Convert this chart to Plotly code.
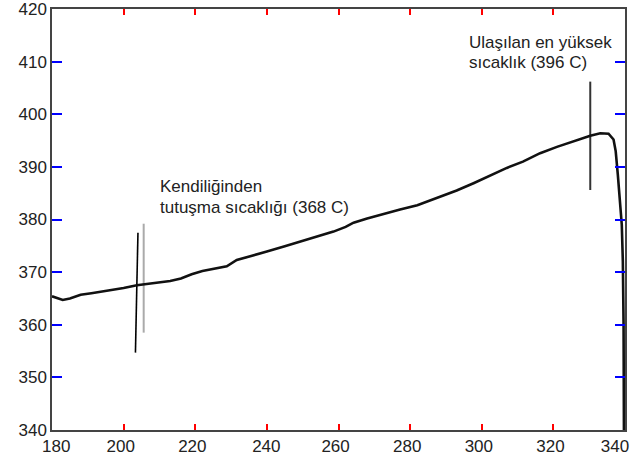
import plotly.graph_objects as go

# Temperature curve
curve_x = [180.0, 181.5, 183.0, 185.0, 188.0, 191.0, 194.0, 197.0, 200.0, 203.7,
           207.0, 210.0, 213.0, 216.0, 219.0, 222.0, 225.0, 228.8, 231.6, 235.0,
           240.0, 245.0, 249.3, 254.0, 258.6, 262.0, 264.2, 268.0, 271.6, 277.2,
           282.0, 288.4, 293.0, 297.7, 302.0, 307.0, 311.5, 316.3, 321.0, 325.6,
           330.3, 333.1, 335.4, 336.8, 337.4, 338.0, 338.7, 339.1, 339.4, 339.6, 339.7]
curve_y = [365.4, 365.0, 364.7, 365.0, 365.7, 366.0, 366.3, 366.6, 367.0, 367.5,
           367.8, 368.0, 368.3, 368.8, 369.6, 370.2, 370.6, 371.1, 372.3, 372.9,
           373.9, 374.9, 375.8, 376.7, 377.7, 378.6, 379.4, 380.2, 380.9, 381.9,
           382.7, 384.3, 385.5, 386.9, 388.2, 389.8, 391.0, 392.6, 393.8, 394.9,
           395.9, 396.4, 396.3, 395.2, 393.0, 388.5, 383.0, 379.0, 372.0, 360.0, 340.0]

# Marker lines
ign_black_x = [204.0, 203.3]
ign_black_y = [377.5, 354.7]
ign_gray_x = [205.6, 205.6]
ign_gray_y = [379.2, 358.5]
peak_x = [330.3, 330.3]
peak_y = [406.2, 385.6]

# Labels (one entry per text line)
ign_lines = ["Kendiliğinden", "tutuşma sıcaklığı (368 C)"]
ign_line_x = [209.6, 209.6]
ign_line_y = [386.3, 382.3]
peak_lines = ["Ulaşılan en yüksek", "sıcaklık (396 C)"]
peak_line_x = [295.8, 295.8]
peak_line_y = [413.6, 409.9]

NB = "\u00a0"
x_ticks = [180, 200, 220, 240, 260, 280, 300, 320, 340]
x_ticktext = [NB * 6 + "180", NB * 3 + "200", NB * 3 + "220", NB * 4 + "240", NB * 3 + "260",
              NB * 3 + "280", NB * 3 + "300", NB * 3 + "320", "340"]
y_ticks = [340, 350, 360, 370, 380, 390, 400, 410, 420]
x_minor = list(range(180, 341, 4))
y_minor = list(range(340, 421, 2))

fig = go.Figure()
fig.add_trace(go.Scatter(x=ign_gray_x, y=ign_gray_y, mode="lines",
                         line=dict(color="#aaaaaa", width=2), showlegend=False, hoverinfo="skip"))
fig.add_trace(go.Scatter(x=ign_black_x, y=ign_black_y, mode="lines",
                         line=dict(color="#000000", width=1.6), showlegend=False, hoverinfo="skip"))
fig.add_trace(go.Scatter(x=peak_x, y=peak_y, mode="lines",
                         line=dict(color="#333333", width=2), showlegend=False, hoverinfo="skip"))
fig.add_trace(go.Scatter(x=curve_x, y=curve_y, mode="lines",
                         line=dict(color="#111111", width=2.6), showlegend=False))

font_fam = "Liberation Sans, Arial, sans-serif"
for txt, ax, ay in list(zip(ign_lines, ign_line_x, ign_line_y)) + list(zip(peak_lines, peak_line_x, peak_line_y)):
    fig.add_annotation(x=ax, y=ay, text=txt, showarrow=False,
                       xanchor="left", yanchor="middle", align="left",
                       font=dict(family=font_fam, size=17, color="#222222"))

axis_common = dict(showline=True, mirror="allticks", linecolor="#444444", linewidth=1.5,
                   ticks="inside", tickwidth=2,
                   showgrid=False, zeroline=False, automargin=False,
                   ticklabeloverflow="allow",
                   tickfont=dict(family=font_fam, size=17, color="#222222"))
fig.update_xaxes(range=[180, 340], tickmode="array", tickvals=x_ticks, ticktext=x_ticktext,
                 ticklabelshift=-10, ticklen=6, tickcolor="red",
                 **axis_common)
fig.update_yaxes(range=[340, 420], tickmode="array", tickvals=y_ticks, ticklen=10, tickcolor="blue",
                 **axis_common)

fig.update_layout(width=633, height=467, margin=dict(l=52, r=8, t=9, b=37),
                  plot_bgcolor="white", paper_bgcolor="white")
fig.write_html("out.html", config={"displayModeBar": False},
               post_script="document.body.style.margin='0';document.body.style.overflow='hidden';")
